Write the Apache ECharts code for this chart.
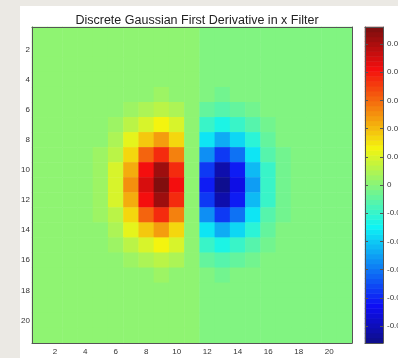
<!DOCTYPE html>
<html>
<head>
<meta charset="utf-8">
<script src="https://cdn.jsdelivr.net/npm/echarts@6/dist/echarts.min.js"></script>
<style>
html, body { margin: 0; padding: 0; width: 398px; height: 358px; overflow: hidden; background: #ebe9e4; }
.fig { position: absolute; left: 20px; top: 6px; right: 0; bottom: 0; background: #fff; }
#chart { position: absolute; left: 0; top: 0; width: 398px; height: 358px; }
</style>
</head>
<body>
<div class="fig"></div>
<div id="chart"></div>
<script>
// 轴刻度
const colLabels = ["1","2","3","4","5","6","7","8","9","10","11","12","13","14","15","16","17","18","19","20","21"];
const rowLabels = ["1","2","3","4","5","6","7","8","9","10","11","12","13","14","15","16","17","18","19","20","21"];
const cbTicks = [-0.05, -0.04, -0.03, -0.02, -0.01, 0, 0.01, 0.02, 0.03, 0.04, 0.05];
const cMin = -0.056;
const cMax = 0.056;
const titleText = "Discrete Gaussian First Derivative in x Filter";

// 滤波器数值 (行 1..21, 列 1..21)
const filterRows = [
  [.0001,.0001,.0001,.0001,.0001,.0001,.0001,.0001,.0001,.0001,0,-.0001,-.0001,-.0001,-.0001,-.0001,-.0001,-.0001,-.0001,-.0001,-.0001],
  [.0001,.0001,.0001,.0001,.0001,.0001,.0001,.0001,.0001,.0001,0,-.0001,-.0001,-.0001,-.0001,-.0001,-.0001,-.0001,-.0001,-.0001,-.0001],
  [.0001,.0001,.0001,.0001,.0001,.0001,.0001,.0001,.0001,.0001,0,-.0001,-.0001,-.0001,-.0001,-.0001,-.0001,-.0001,-.0001,-.0001,-.0001],
  [.0001,.0001,.0001,.0001,.0001,.0001,.0002,.0004,.0005,.0004,0,-.0004,-.0005,-.0004,-.0002,-.0001,-.0001,-.0001,-.0001,-.0001,-.0001],
  [.0001,.0001,.0001,.0001,.0001,.0003,.0008,.0015,.0018,.0013,0,-.0013,-.0018,-.0015,-.0008,-.0003,-.0001,-.0001,-.0001,-.0001,-.0001],
  [.0001,.0001,.0001,.0001,.0003,.0010,.0023,.0042,.0053,.0038,0,-.0038,-.0053,-.0042,-.0023,-.0010,-.0003,-.0001,-.0001,-.0001,-.0001],
  [.0001,.0001,.0001,.0002,.0007,.0022,.0055,.0099,.0123,.0090,0,-.0090,-.0123,-.0099,-.0055,-.0022,-.0007,-.0002,-.0001,-.0001,-.0001],
  [.0001,.0001,.0001,.0003,.0013,.0043,.0107,.0192,.0239,.0174,0,-.0174,-.0239,-.0192,-.0107,-.0043,-.0013,-.0003,-.0001,-.0001,-.0001],
  [.0001,.0001,.0001,.0005,.0021,.0069,.0171,.0308,.0384,.0279,0,-.0279,-.0384,-.0308,-.0171,-.0069,-.0021,-.0005,-.0001,-.0001,-.0001],
  [.0001,.0001,.0001,.0006,.0028,.0092,.0227,.0409,.0510,.0371,0,-.0371,-.0510,-.0409,-.0227,-.0092,-.0028,-.0006,-.0001,-.0001,-.0001],
  [.0001,.0001,.0001,.0007,.0031,.0101,.0250,.0450,.0560,.0407,0,-.0407,-.0560,-.0450,-.0250,-.0101,-.0031,-.0007,-.0001,-.0001,-.0001],
  [.0001,.0001,.0001,.0006,.0028,.0092,.0227,.0409,.0510,.0371,0,-.0371,-.0510,-.0409,-.0227,-.0092,-.0028,-.0006,-.0001,-.0001,-.0001],
  [.0001,.0001,.0001,.0005,.0021,.0069,.0171,.0308,.0384,.0279,0,-.0279,-.0384,-.0308,-.0171,-.0069,-.0021,-.0005,-.0001,-.0001,-.0001],
  [.0001,.0001,.0001,.0003,.0013,.0043,.0107,.0192,.0239,.0174,0,-.0174,-.0239,-.0192,-.0107,-.0043,-.0013,-.0003,-.0001,-.0001,-.0001],
  [.0001,.0001,.0001,.0002,.0007,.0022,.0055,.0099,.0123,.0090,0,-.0090,-.0123,-.0099,-.0055,-.0022,-.0007,-.0002,-.0001,-.0001,-.0001],
  [.0001,.0001,.0001,.0001,.0003,.0010,.0023,.0042,.0053,.0038,0,-.0038,-.0053,-.0042,-.0023,-.0010,-.0003,-.0001,-.0001,-.0001,-.0001],
  [.0001,.0001,.0001,.0001,.0001,.0003,.0008,.0015,.0018,.0013,0,-.0013,-.0018,-.0015,-.0008,-.0003,-.0001,-.0001,-.0001,-.0001,-.0001],
  [.0001,.0001,.0001,.0001,.0001,.0001,.0002,.0004,.0005,.0004,0,-.0004,-.0005,-.0004,-.0002,-.0001,-.0001,-.0001,-.0001,-.0001,-.0001],
  [.0001,.0001,.0001,.0001,.0001,.0001,.0001,.0001,.0001,.0001,0,-.0001,-.0001,-.0001,-.0001,-.0001,-.0001,-.0001,-.0001,-.0001,-.0001],
  [.0001,.0001,.0001,.0001,.0001,.0001,.0001,.0001,.0001,.0001,0,-.0001,-.0001,-.0001,-.0001,-.0001,-.0001,-.0001,-.0001,-.0001,-.0001],
  [.0001,.0001,.0001,.0001,.0001,.0001,.0001,.0001,.0001,.0001,0,-.0001,-.0001,-.0001,-.0001,-.0001,-.0001,-.0001,-.0001,-.0001,-.0001]
];

// jet(64) 色表, 和 MATLAB 一样 (图片有点发灰, 稍微混一点灰色)
const nLevels = 64;
function jetPart(k) {
  if (k < 1 || k > 47) return 0;
  if (k <= 16) return k / 16;
  if (k <= 31) return 1;
  return (48 - k) / 16;
}
function jetColor(i) {
  const mix = (t) => Math.round(0.9 * 255 * t + 0.1 * 140);
  const r = mix(jetPart(i - 24));
  const g = mix(jetPart(i - 8));
  const b = mix(jetPart(i + 8));
  return "rgb(" + r + "," + g + "," + b + ")";
}

const step = (cMax - cMin) / nLevels;
let pieces = [];
let cbBins = [];
let cbCells = [];
for (let i = 0; i < nLevels; i++) {
  const lo = +(cMin + i * step).toFixed(8);
  const hi = +(cMin + (i + 1) * step).toFixed(8);
  const p = { gte: lo, color: jetColor(i + 1) };
  if (i === nLevels - 1) p.lte = hi; else p.lt = hi;
  pieces.push(p);
  cbBins.push(String(i));
  cbCells.push([0, i, (lo + hi) / 2]);
}

let cells = [];
filterRows.forEach((row, r) => {
  row.forEach((v, c) => cells.push([c, r, v]));
});

const axisColor = "#555";
const labelStyle = { color: "#333", fontSize: 8, fontFamily: "Liberation Sans" };
const evenOnly = (idx) => idx % 2 === 1;

let chart = echarts.init(document.getElementById("chart"));

let option = {
  animation: false,
  title: {
    text: titleText,
    left: 192,
    top: 9,
    textAlign: "center",
    textStyle: { color: "#222", fontSize: 12.5, fontWeight: "normal", fontFamily: "Liberation Sans" },
  },
  grid: [
    { left: 32, top: 27, width: 320, height: 316, outerBoundsMode: "none" },
    { left: 365, top: 27, width: 18, height: 316, outerBoundsMode: "none" },
  ],
  visualMap: {
    type: "piecewise",
    show: false,
    dimension: 2,
    seriesIndex: [0, 1],
    pieces: pieces,
  },
  xAxis: [
    {
      gridIndex: 0, type: "category", data: colLabels, position: "bottom", z: 10,
      axisLine: { onZero: false, lineStyle: { color: axisColor, width: 1 } },
      axisTick: { inside: true, alignWithLabel: true, interval: evenOnly, length: 3, lineStyle: { color: axisColor } },
      axisLabel: Object.assign({ interval: evenOnly, margin: 5 }, labelStyle),
      splitLine: { show: false },
    },
    {
      gridIndex: 0, type: "category", data: colLabels, position: "top", z: 10,
      axisLine: { onZero: false, lineStyle: { color: axisColor, width: 1 } },
      axisTick: { inside: true, alignWithLabel: true, interval: evenOnly, length: 3, lineStyle: { color: axisColor } },
      axisLabel: { show: false },
    },
    {
      gridIndex: 1, type: "category", data: ["cb"], position: "bottom", z: 10,
      axisLine: { onZero: false, lineStyle: { color: axisColor, width: 1 } },
      axisTick: { show: false },
      axisLabel: { show: false },
    },
    {
      gridIndex: 1, type: "category", data: ["cb"], position: "top", z: 10,
      axisLine: { onZero: false, lineStyle: { color: axisColor, width: 1 } },
      axisTick: { show: false },
      axisLabel: { show: false },
    },
  ],
  yAxis: [
    {
      gridIndex: 0, type: "category", data: rowLabels, inverse: true, position: "left", z: 10,
      axisLine: { onZero: false, lineStyle: { color: axisColor, width: 1 } },
      axisTick: { inside: true, alignWithLabel: true, interval: evenOnly, length: 3, lineStyle: { color: axisColor } },
      axisLabel: Object.assign({ interval: evenOnly, margin: 2 }, labelStyle),
    },
    {
      gridIndex: 0, type: "category", data: rowLabels, inverse: true, position: "right", z: 10,
      axisLine: { onZero: false, lineStyle: { color: axisColor, width: 1 } },
      axisTick: { inside: true, alignWithLabel: true, interval: evenOnly, length: 3, lineStyle: { color: axisColor } },
      axisLabel: { show: false },
    },
    {
      gridIndex: 1, type: "category", data: cbBins, show: false,
    },
    {
      gridIndex: 1, type: "value", min: cMin, max: cMax, position: "right", z: 10,
      axisLine: { show: true, onZero: false, lineStyle: { color: axisColor, width: 1 } },
      axisTick: { show: true, inside: true, length: 3, customValues: cbTicks, lineStyle: { color: axisColor } },
      axisLabel: Object.assign({ customValues: cbTicks, margin: 4 }, labelStyle),
      splitLine: { show: false },
    },
    {
      gridIndex: 1, type: "value", min: cMin, max: cMax, position: "left", z: 10,
      axisLine: { show: true, onZero: false, lineStyle: { color: axisColor, width: 1 } },
      axisTick: { show: true, inside: true, length: 3, customValues: cbTicks, lineStyle: { color: axisColor } },
      axisLabel: { show: false },
      splitLine: { show: false },
    },
  ],
  series: [
    {
      type: "heatmap",
      xAxisIndex: 0,
      yAxisIndex: 0,
      data: cells,
    },
    {
      type: "heatmap",
      xAxisIndex: 2,
      yAxisIndex: 2,
      data: cbCells,
    },
  ],
};

chart.setOption(option);
</script>
</body>
</html>
